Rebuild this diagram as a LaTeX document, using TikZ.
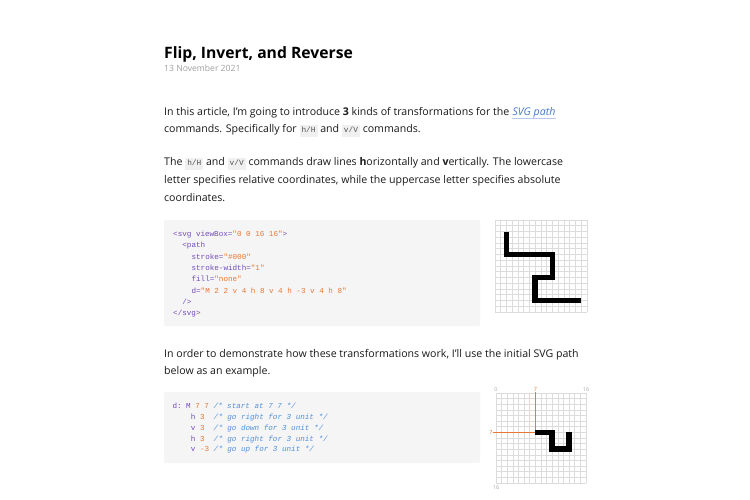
\documentclass[tikz,border=0pt]{standalone}
\usepackage{fontspec}
\setmainfont{Open Sans}
\setmonofont{Liberation Mono}
\definecolor{txt}{RGB}{25,25,25}
\definecolor{datec}{RGB}{160,160,160}
\definecolor{codebg}{RGB}{245,245,245}
\definecolor{icbg}{RGB}{240,240,240}
\definecolor{icfg}{RGB}{80,80,80}
\definecolor{cpur}{RGB}{115,75,185}
\definecolor{corg}{RGB}{232,120,50}
\definecolor{cblu}{RGB}{80,145,220}
\definecolor{linkc}{RGB}{70,120,200}
\definecolor{gridc}{RGB}{220,220,220}
\definecolor{labc}{RGB}{170,170,170}
\newcommand\bodyf{\fontsize{10.6}{12.5}\selectfont\color{txt}}
\newcommand\codef{\fontsize{7.6}{9}\selectfont\ttfamily}
\newcommand\icode[1]{{\setlength\fboxsep{2pt}\colorbox{icbg}{\fontsize{7.8}{8}\selectfont\ttfamily\color{icfg}\vphantom{Hg}#1}}}
\newcommand\cP[1]{\textcolor{cpur}{#1}}
\newcommand\cO[1]{\textcolor{corg}{#1}}
\newcommand\cC[1]{\textcolor{cblu}{\itshape #1}}
\tikzset{
  txtline/.style={anchor=base west, inner sep=0pt, font=\bodyf},
  codeline/.style={anchor=base west, inner sep=0pt, font=\codef},
  codebox/.style={fill=codebg, rounded corners=2pt},
  gridline/.style={draw=gridc, line width=0.6pt},
  pathline/.style={draw=black, line cap=butt, line join=miter},
  guide/.style={draw=corg, line width=1pt},
  glab/.style={inner sep=0pt, font=\fontsize{5.5}{6}\selectfont, text=labc},
}
\begin{document}
\begin{tikzpicture}[x=1pt,y=-1pt]
\useasboundingbox (0,0) rectangle (750,500);
\fill[white] (0,0) rectangle (750,500);

% title and date
\node[txtline, font=\fontsize{15.7}{19}\selectfont\bfseries] (title) at (164,59) {Flip, Invert, and Reverse};
\node[txtline, font=\fontsize{8.6}{10}\selectfont\color{datec}] (date) at (164,71.5) {13 November 2021};

% paragraph 1
\node[txtline] (p1a) at (164,116) {In this article, I'm going to introduce \textbf{3} kinds of transformations for the};
\node[txtline, font=\bodyf\itshape, xshift=2.8pt] (link) at (p1a.base east) {\color{linkc}SVG path};
\draw[linkc!40, line width=0.5pt] ([yshift=-2.2pt]link.base west) -- ([yshift=-2.2pt]link.base east);
\node[txtline] (p1b) at (164,133) {commands. Specifically for \icode{h/H} and \icode{v/V} commands.};

% paragraph 2
\node[txtline] (p2a) at (164,166) {The \icode{h/H} and \icode{v/V} commands draw lines \textbf{h}orizontally and \textbf{v}ertically. The lowercase};
\node[txtline] (p2b) at (164,183.5) {letter specifies relative coordinates, while the uppercase letter specifies absolute};
\node[txtline] (p2c) at (164,201) {coordinates.};

% code block 1
\path[codebox] (164,220) rectangle (480,326);
\node[codeline] (c1) at (173,236.5) {\cP{<svg viewBox=}\cO{"0 0 16 16"}\cP{>}};
\node[codeline] (c2) at (182.2,247.8) {\cP{<path}};
\node[codeline] (c3) at (191.4,259.1) {\cP{stroke=}\cO{"\#000"}};
\node[codeline] (c4) at (191.4,270.4) {\cP{stroke-width=}\cO{"1"}};
\node[codeline] (c5) at (191.4,281.7) {\cP{fill=}\cO{"none"}};
\node[codeline] (c6) at (191.4,293.0) {\cP{d=}\cO{"M 2 2 v 4 h 8 v 4 h -3 v 4 h 8"}};
\node[codeline] (c7) at (182.2,304.3) {\cP{/>}};
\node[codeline] (c8) at (173,315.6) {\cP{</svg>}};

% grid 1
\begin{scope}[shift={(495,220)}, x=5.75pt, y=-5.75pt]
  \foreach \i in {0,...,16} {
    \draw[gridline] (\i,0) -- (\i,16);
    \draw[gridline] (0,\i) -- (16,\i);
  }
  \coordinate (g1s) at (2,2);
  \coordinate (g1e) at (15,14);
  \draw[pathline, line width=5.75pt] (g1s) -- ++(0,4) -- ++(8,0) -- ++(0,4) -- ++(-3,0) -- ++(0,4) -- (g1e);
\end{scope}

% paragraph 3
\node[txtline] (p3a) at (164,357) {In order to demonstrate how these transformations work, I'll use the initial SVG path};
\node[txtline] (p3b) at (164,374) {below as an example.};

% code block 2
\path[codebox] (164,392) rectangle (480,463);
\node[codeline] (d1) at (172.3,408.7) {\cP{d: M} \cO{7 7} \cC{/* start at 7 7 */}};
\node[codeline] (d2) at (190.7,419.5) {\cP{h} \cO{3}~~\cC{/* go right for 3 unit */}};
\node[codeline] (d3) at (190.7,430.3) {\cP{v} \cO{3}~~\cC{/* go down for 3 unit */}};
\node[codeline] (d4) at (190.7,441.1) {\cP{h} \cO{3}~~\cC{/* go right for 3 unit */}};
\node[codeline] (d5) at (190.7,451.9) {\cP{v} \cO{-3} \cC{/* go up for 3 unit */}};

% grid 2
\begin{scope}[shift={(496,393)}, x=5.625pt, y=-5.625pt]
  \foreach \i in {0,...,16} {
    \draw[gridline] (\i,0) -- (\i,16);
    \draw[gridline] (0,\i) -- (16,\i);
  }
  \coordinate (g2s) at (7,7);
  \coordinate (g2e) at (13,7);
  \coordinate (g2t) at (7,-0.2);
  \coordinate (g2l) at (-0.6,7);
  \draw[guide] (g2t) -- (g2s);
  \draw[guide] (g2l) -- (g2s);
  \draw[pathline, line width=5.625pt] (g2s) -- ++(3,0) -- ++(0,3) -- ++(3,0) -- (g2e);
  \node[glab, anchor=south] (l0) at (0,-0.3) {0};
  \node[glab, anchor=south, text=corg] (l7t) at (7,-0.3) {7};
  \node[glab, anchor=south] (l16t) at (16,-0.3) {16};
  \node[glab, anchor=east, text=corg] (l7l) at (-0.6,7) {7};
  \node[glab, anchor=north] (l16b) at (0,16.4) {16};
\end{scope}
\end{tikzpicture}
\end{document}
